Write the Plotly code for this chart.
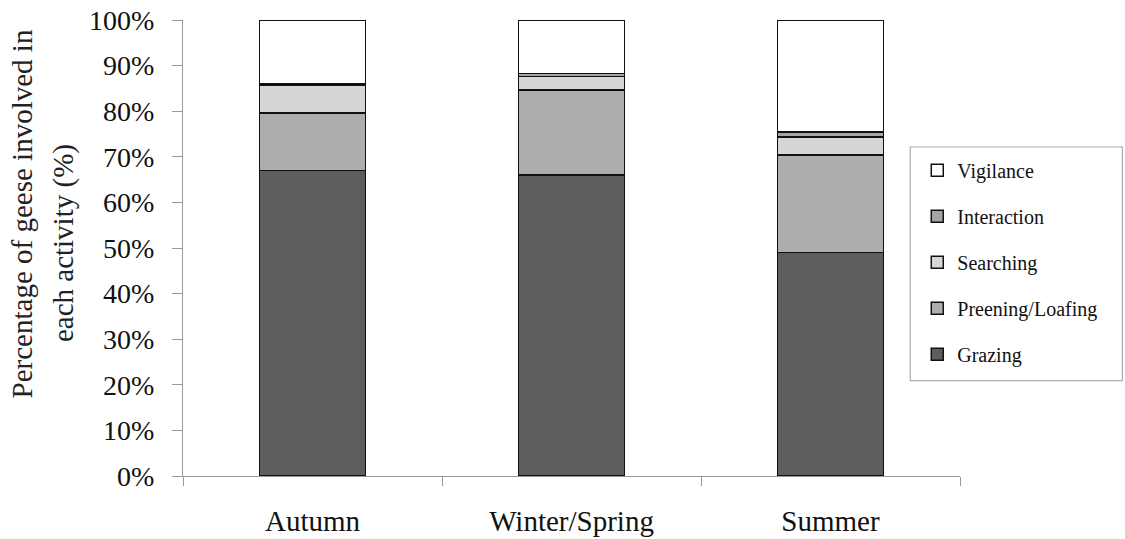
import plotly.graph_objects as go

seasons = ["Autumn", "Winter/Spring", "Summer"]

activities = ["Grazing", "Preening/Loafing", "Searching", "Interaction", "Vigilance"]
grazing = [67.0, 66.0, 49.0]
preening = [12.6, 18.6, 21.4]
searching = [6.1, 3.0, 3.9]
interaction = [0.3, 0.7, 1.1]
vigilance = [14.0, 11.7, 24.6]

values = [grazing, preening, searching, interaction, vigilance]
colors = ["#5e5e5e", "#adadad", "#d6d6d6", "#a4a4a4", "#ffffff"]
legend_ranks = [5, 4, 3, 2, 1]

serif = "Liberation Serif, Times New Roman, serif"

fig = go.Figure()
for name, vals, col, rank in zip(activities, values, colors, legend_ranks):
    fig.add_trace(go.Bar(
        x=seasons, y=vals, name=name, legendgroup=name, legendrank=rank,
        marker=dict(color=col, line=dict(color="#111111", width=1.5)),
        width=0.41,
    ))

fig.update_layout(
    barmode="stack",
    width=1125, height=539,
    margin=dict(l=183, r=165, t=20, b=63),
    paper_bgcolor="white", plot_bgcolor="white",
    font=dict(family=serif, color="#111111", size=29),
    legend=dict(
        x=0.945, y=0.713, xanchor="left", yanchor="top",
        traceorder="grouped", tracegroupgap=17,
        font=dict(family=serif, size=20, color="#111111"),
        bgcolor="rgba(0,0,0,0)", borderwidth=0,
        itemwidth=30,
    ),
    showlegend=True,
)

# frame around the legend
fig.add_shape(type="rect", xref="paper", yref="paper",
              x0=0.936, x1=1.209, y0=0.209, y1=0.7215,
              line=dict(color="#aaaaaa", width=1.2), fillcolor="rgba(0,0,0,0)")

# two-line rotated y-axis title, each line placed on its own
title_lines = ["Percentage of geese involved in", "each activity (%)"]
title_x = [-0.207, -0.153]
title_y = [0.574, 0.511]
for txt, tx, ty in zip(title_lines, title_x, title_y):
    fig.add_annotation(
        text=txt, xref="paper", yref="paper", x=tx, y=ty,
        xanchor="center", yanchor="middle", textangle=-90, showarrow=False,
        font=dict(family=serif, size=29, color="#222222"),
    )

fig.update_yaxes(
    range=[0, 100], dtick=10, ticksuffix="%",
    automargin=False,
    showgrid=False, zeroline=False,
    showline=True, linecolor="#999999", linewidth=1,
    ticks="outside", ticklen=10, tickcolor="#999999",
    ticklabelstandoff=12,
    tickfont=dict(family=serif, size=28, color="#111111"),
)
fig.update_xaxes(
    range=[-0.5, 2.5], tickson="boundaries",
    automargin=False,
    showgrid=False, zeroline=False,
    showline=True, linecolor="#999999", linewidth=1,
    ticks="outside", ticklen=9, tickcolor="#999999",
    tickfont=dict(family=serif, size=29, color="#111111"),
    ticklabelstandoff=19,
)

fig.write_html("out.html")
